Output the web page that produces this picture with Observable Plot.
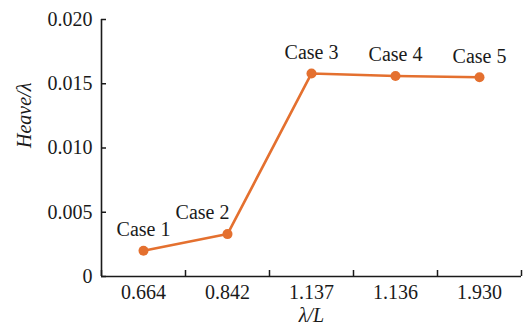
<!DOCTYPE html>
<html>
<head>
<meta charset="utf-8">
<script src="https://cdn.jsdelivr.net/npm/d3@7"></script>
<script src="https://cdn.jsdelivr.net/npm/@observablehq/plot@0.6"></script>
<style>
  html, body { margin: 0; padding: 0; background: #fff; }
  #chart svg { display: block; }
</style>
</head>
<body>
<div id="chart"></div>
<script>
// Wavelength ratio categories (λ/L) and the heave response of each case
const xLabels = ["0.664", "0.842", "1.137", "1.136", "1.930"];
const caseNames = ["Case 1", "Case 2", "Case 3", "Case 4", "Case 5"];
const heave = [0.0020, 0.0033, 0.0158, 0.0156, 0.0155];
const yTicks = [0, 0.005, 0.010, 0.015, 0.020];

const data = xLabels.map((label, i) => ({i, label, name: caseNames[i], heave: heave[i]}));
const idx = data.map(d => d.i);
// category boundaries, where the x-axis tick marks sit
const bounds = [-0.5, ...idx.map(i => i + 0.5)];

const orange = "#e4702f";
const ink = "#1a1a1a";
const font = "Liberation Serif, Times New Roman, serif";
const fs = 20;

const chart = Plot.plot({
  width: 529,
  height: 328,
  marginLeft: 101,
  marginRight: 8,
  marginTop: 19,
  marginBottom: 52,
  style: {fontFamily: font, fontSize: fs + "px", color: ink, background: "#fff"},
  x: {type: "linear", domain: [-0.5, idx.length - 0.5]},
  y: {domain: [0, 0.020]},
  marks: [
    // y axis: labels, then inward ticks
    Plot.axisY(yTicks, {tickSize: 0, tickPadding: 9, label: null, fontSize: fs,
      tickFormat: d => d === 0 ? "0" : d.toFixed(3)}),
    Plot.axisY(yTicks, {tickSize: -5, text: null, label: null, stroke: ink, strokeWidth: 1.5}),
    // x axis: category labels centred, ticks at category boundaries
    Plot.axisX(idx, {tickSize: 0, tickPadding: 8, label: null, fontSize: fs, tickFormat: i => xLabels[i]}),
    Plot.axisX(bounds, {tickSize: -6, text: null, label: null, stroke: ink, strokeWidth: 1.5}),
    Plot.ruleX([-0.5], {stroke: ink, strokeWidth: 1.6}),
    Plot.ruleY([0], {stroke: ink, strokeWidth: 1.6}),
    // axis titles
    Plot.text(["Heave/λ"], {frameAnchor: "left", dx: -77, rotate: -90, fontStyle: "italic", fontSize: fs, fill: ink}),
    Plot.text(["λ/L"], {frameAnchor: "bottom", dy: 45, fontStyle: "italic", fontSize: fs, fill: ink}),
    // response line and markers
    Plot.line(data, {x: "i", y: "heave", stroke: orange, strokeWidth: 2.6}),
    Plot.dot(data, {x: "i", y: "heave", r: 5, fill: orange, stroke: "none"}),
    // case annotations
    Plot.text(data.filter(d => d.i !== 1), {x: "i", y: "heave", text: "name", dy: -21, fontSize: fs, fill: ink}),
    Plot.text(data.filter(d => d.i === 1), {x: "i", y: "heave", text: "name", dy: -22, dx: -25, fontSize: fs, fill: ink})
  ]
});

document.getElementById("chart").appendChild(chart);
</script>
</body>
</html>
